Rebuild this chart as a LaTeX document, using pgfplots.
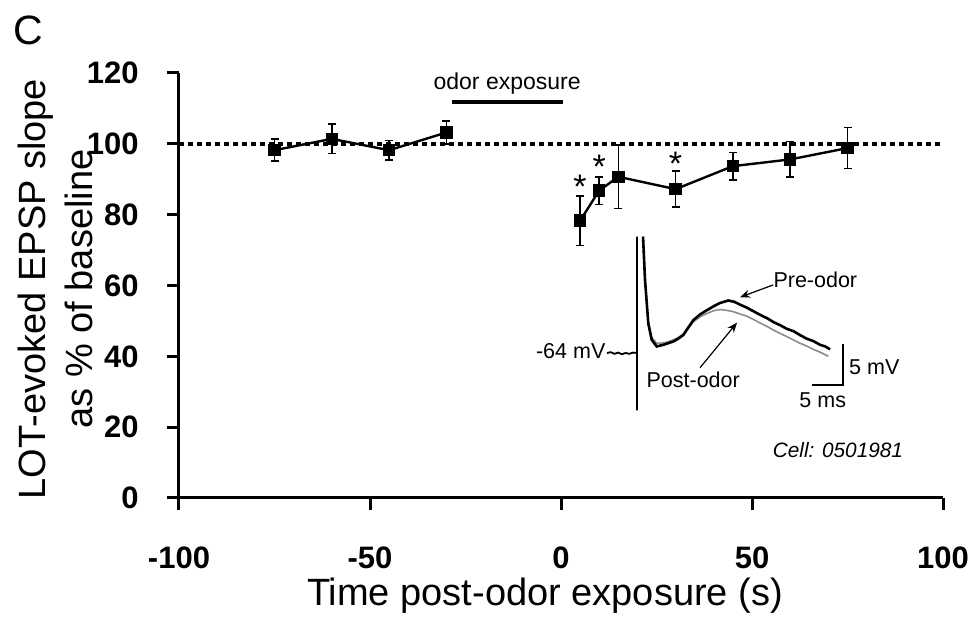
\documentclass[border=0pt]{standalone}
\usepackage{fontspec}
\setmainfont{Liberation Sans}
\usepackage{pgfplots}
\pgfplotsset{compat=1.18}
\usetikzlibrary{arrows.meta}

\pgfplotstableread{
x    y     e
-75  98.2  3.1
-60  101.4 4.2
-45  98.2  2.7
-30  103.2 3.2
}\pre

\pgfplotstableread{
x    y     e
5    78.3  7.0
10   86.8  3.9
15   90.7  9.0
30   87.2  5.1
45   93.7  3.9
60   95.6  5.0
75   98.8  5.8
}\post

\begin{document}
\begin{tikzpicture}
\path[use as bounding box] (-89.5pt,-61pt) rectangle (399.5pt,249pt);
\begin{axis}[
  at={(0pt,0pt)}, anchor=south west,
  scale only axis, width=382pt, height=212.5pt,
  xmin=-100, xmax=100, ymin=0, ymax=120,
  axis lines=left,
  axis line style={-, line width=1.5pt},
  xtick={-100,-50,0,50,100}, ytick={0,20,...,120},
  tick align=outside, major tick length=6pt,
  every tick/.style={black, line width=1.5pt},
  tick label style={font=\fontsize{15.5}{18}\selectfont\bfseries, inner sep=0pt},
  /pgf/number format/assume math mode=true,
  xticklabel style={anchor=base, yshift=-29pt},
  yticklabel style={anchor=east, xshift=-14pt},
  clip=false,
]
\addplot[black, line width=2pt, dash pattern=on 2.5pt off 2pt] coordinates {(-100,100) (100,100)};
\addplot[black, line width=2pt] coordinates {(-28.5,111.8) (0.5,111.8)};
\addplot[black, line width=1.2pt, mark=square*, mark size=2.5pt, mark options={solid, fill=black},
  error bars/.cd, y dir=both, y explicit,
  error bar style={line width=0.75pt, black},
  error mark options={rotate=90, mark size=2pt, line width=0.75pt, black}]
  table[x=x, y=y, y error=e] {\pre};
\addplot[black, line width=1.2pt, mark=square*, mark size=2.5pt, mark options={solid, fill=black},
  error bars/.cd, y dir=both, y explicit,
  error bar style={line width=0.75pt, black},
  error mark options={rotate=90, mark size=2pt, line width=0.75pt, black}]
  table[x=x, y=y, y error=e] {\post};
\node[font=\fontsize{11.5}{14}\selectfont] at (axis cs:-14.1,117.0) {odor exposure};
\node[font=\fontsize{17}{19}\selectfont] at (axis cs:5,88.0) {*};
\node[font=\fontsize{17}{19}\selectfont] at (axis cs:10,93.4) {*};
\node[font=\fontsize{17}{19}\selectfont] at (axis cs:30,94.5) {*};
\node[font=\fontsize{10.4}{12}\selectfont\itshape] at (axis cs:72.5,13.55) {Cell: 0501981};
\end{axis}

\begin{axis}[
  at={(214pt,138.1pt)}, anchor=north west,
  scale only axis, width=124pt, height=98.4pt,
  xmin=0, xmax=40, ymin=-72, ymax=-48,
  hide axis, clip=false,
]
% baseline and stimulus artifact
\addplot[black, line width=0.9pt] coordinates {
(0,-64) (0.6,-63.9) (1.2,-64.1) (1.8,-63.95) (2.4,-64.15) (3.0,-64.0) (3.6,-64.1) (4.2,-63.95) (4.84,-64)
(4.84,-71) (4.84,-49.8)};
% post-odor trace (gray)
\addplot[black!45, line width=0.8pt] coordinates {
(5.81,-49.8) (6.13,-55.1) (6.66,-60.2) (7.21,-62.1) (8.0,-62.8) (8.55,-62.8) (9.6,-62.7) (10.69,-62.4)
(11.5,-62.1) (12.31,-61.7) (13.1,-61.0) (13.92,-60.2) (15.0,-59.6) (16.08,-59.2) (17.2,-58.85) (18.23,-58.7)
(19.3,-58.8) (20.37,-58.96) (21.5,-59.25) (22.5,-59.5) (23.6,-59.9) (24.7,-60.35) (25.8,-60.75) (26.82,-61.2)
(27.9,-61.6) (29.0,-62.0) (30.05,-62.4) (31.1,-62.8) (32.2,-63.15) (33.27,-63.55) (34.5,-63.95) (35.69,-64.4)};
% pre-odor trace (black)
\addplot[black, line width=1.3pt] coordinates {
(5.81,-49.8) (6.13,-55.1) (6.66,-60.4) (7.21,-62.4) (8.02,-63.2) (9.08,-63.0) (10.69,-62.6) (11.5,-62.25)
(12.31,-61.8) (13.1,-60.9) (13.92,-60.0) (15.0,-59.3) (16.08,-58.8) (17.2,-58.3) (18.23,-57.9) (19.56,-57.6)
(20.5,-57.75) (21.45,-58.1) (22.5,-58.45) (23.6,-58.9) (24.7,-59.35) (25.8,-59.75) (26.9,-60.25) (27.9,-60.6)
(29.0,-61.05) (30.1,-61.35) (31.1,-61.8) (32.2,-62.25) (33.3,-62.55) (34.35,-63.0) (35.2,-63.2) (35.97,-63.55)};
% scale bar
\addplot[black, line width=0.9pt] coordinates {(33.1,-67.9) (38.1,-67.9) (38.1,-62.9)};
\draw[-{Stealth[length=5pt,width=4pt]}, line width=0.6pt] (axis cs:26.8,-55.7) -- (axis cs:21.45,-57.2);
\draw[-{Stealth[length=5pt,width=4pt]}, line width=0.6pt] (axis cs:15.0,-65.8) -- (axis cs:20.97,-60.3);
\begin{scope}[every node/.style={font=\fontsize{10.75}{13}\selectfont}]
\node[anchor=east, inner sep=0pt] at (axis cs:-0.2,-63.75) {-64 mV};
\node at (axis cs:33.6,-55.1) {Pre-odor};
\node at (axis cs:13.9,-67.3) {Post-odor};
\node[anchor=west, inner sep=0pt] at (axis cs:39.0,-65.7) {5 mV};
\node at (axis cs:34.8,-69.8) {5 ms};
\end{scope}
\end{axis}

\node[font=\fontsize{20.5}{24}\selectfont] at (-75.5pt,234pt) {C};
\node[rotate=90, align=center, font=\fontsize{19}{23.5}\selectfont] at (-62pt,104.5pt)
  {LOT-evoked EPSP slope\\as \% of baseline};
\node[anchor=base, font=\fontsize{19}{22}\selectfont] at (183pt,-53.5pt) {Time post-odor exposure (s)};
\end{tikzpicture}
\end{document}
